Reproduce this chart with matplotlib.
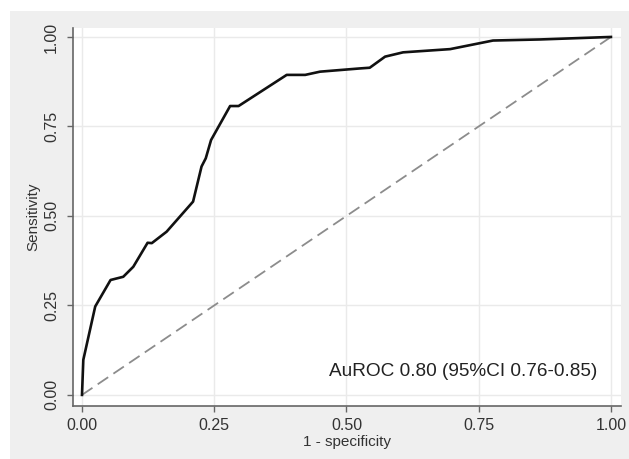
import matplotlib
matplotlib.use("Agg")
import matplotlib.pyplot as plt
from matplotlib.patches import Rectangle

# ROC curve
fpr = [0.0, 0.0025, 0.025, 0.054, 0.078, 0.097, 0.124, 0.132, 0.160, 0.210,
       0.226, 0.234, 0.244, 0.280, 0.296, 0.387, 0.422, 0.450, 0.525, 0.544,
       0.573, 0.607, 0.696, 0.777, 0.866, 1.0]
tpr = [0.0, 0.098, 0.247, 0.321, 0.330, 0.358, 0.425, 0.424, 0.456, 0.540,
       0.638, 0.661, 0.712, 0.807, 0.807, 0.894, 0.894, 0.903, 0.912, 0.914,
       0.945, 0.957, 0.966, 0.990, 0.993, 1.0]
ref_line = [0, 1]
ticks = [0, 0.25, 0.5, 0.75, 1.0]
tick_labels = ["0.00", "0.25", "0.50", "0.75", "1.00"]
note = "AuROC 0.80 (95%CI 0.76-0.85)"

plt.rcParams['font.family'] = ['Liberation Sans', 'DejaVu Sans']

fig = plt.figure(figsize=(6.29, 4.59), dpi=100)
fig.patch.set_facecolor('white')
# grey Stata-like background
bg = Rectangle((10 / 629, 0), 1, 448 / 459, transform=fig.transFigure,
               facecolor='#efefef', edgecolor='none', zorder=-10)
fig.add_artist(bg)

ax = fig.add_axes([73 / 629, 53 / 459, 548 / 629, 378 / 459])
ax.set_facecolor('white')

ax.plot(ref_line, ref_line, color='#8c8c8c', linewidth=1.3, dashes=(7, 3.5))
ax.plot(fpr, tpr, color='#111111', linewidth=1.9, solid_joinstyle='round')

ax.set_xlim(-0.017, 1.019)
ax.set_ylim(-0.031, 1.025)
ax.set_xticks(ticks)
ax.set_xticklabels(tick_labels)
ax.set_yticks(ticks)
ax.set_yticklabels(tick_labels, rotation=90, va='center')

ax.grid(True, color='#eaeaea', linewidth=1)
ax.set_axisbelow(True)
for side in ['top', 'right']:
    ax.spines[side].set_visible(False)
for side in ['left', 'bottom']:
    ax.spines[side].set_color('#666666')
    ax.spines[side].set_linewidth(1.2)

ax.tick_params(axis='both', direction='out', length=4, width=1, color='#666666',
               labelsize=11.5, labelcolor='#333333')
ax.tick_params(axis='x', pad=5)
ax.tick_params(axis='y', pad=6)

ax.set_xlabel("1 - specificity", fontsize=11, color='#333333', labelpad=1)
ax.set_ylabel("Sensitivity", fontsize=11, color='#333333', labelpad=3)

ax.text(0.467, 0.064, note, fontsize=13.7, color='#222222', ha='left', va='center')

fig.savefig("out.png", dpi=100, facecolor=fig.get_facecolor())
